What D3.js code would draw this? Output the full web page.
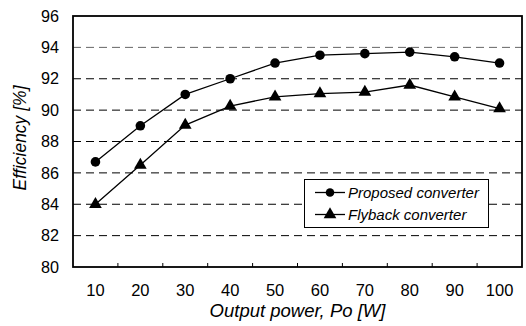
<!DOCTYPE html>
<html><head><meta charset="utf-8">
<script src="https://cdn.jsdelivr.net/npm/d3@7"></script>
<style>body{margin:0;background:#fff}svg{display:block}text{font-family:"Liberation Sans",Arial,sans-serif}</style>
</head><body>
<svg id="c" width="526" height="326"></svg>
<script>
const categories = ["10","20","30","40","50","60","70","80","90","100"];
const proposed = [86.7, 89.0, 91.0, 92.0, 93.0, 93.5, 93.6, 93.7, 93.4, 93.0];
const flyback = [84.0, 86.5, 89.05, 90.25, 90.85, 91.05, 91.15, 91.6, 90.85, 90.1];
const yTicks = [80, 82, 84, 86, 88, 90, 92, 94, 96];
const seriesNames = ["Proposed converter", "Flyback converter"];

const svg = d3.select("#c");
const m = {l: 73, t: 16, r: 522, b: 267};
const x = d3.scaleBand().domain(categories).range([m.l, m.r]);
const y = d3.scaleLinear().domain([80, 96]).range([m.b, m.t]);

// grid
svg.append("g").selectAll("line").data(yTicks.filter(d => d > 80 && d < 96)).join("line")
  .attr("x1", m.l).attr("x2", m.r).attr("y1", d => y(d)).attr("y2", d => y(d))
  .attr("stroke", d => d === 94 ? "#666" : "#000").attr("stroke-width", 1)
  .attr("stroke-dasharray", "8,5");

// x axis ticks (inside)
const xa = svg.append("g").attr("transform", `translate(0,${m.b})`)
  .call(d3.axisBottom(x).tickSize(0).tickPadding(17));
xa.select(".domain").remove();
xa.selectAll("text").attr("font-size", 16.5).attr("fill", "#000").attr("font-family", "Liberation Sans, Arial, sans-serif");
svg.append("g").selectAll("line").data(categories.slice(1)).join("line")
  .attr("x1", d => x(d)).attr("x2", d => x(d)).attr("y1", m.b).attr("y2", m.b - 4)
  .attr("stroke", "#000").attr("stroke-width", 1);

// y axis labels
const ya = svg.append("g").attr("transform", `translate(${m.l},0)`)
  .call(d3.axisLeft(y).tickValues(yTicks).tickSize(0).tickPadding(14));
ya.select(".domain").remove();
ya.selectAll("text").attr("font-size", 16.2).attr("fill", "#000").attr("font-family", "Liberation Sans, Arial, sans-serif");

// frame
svg.append("rect").attr("x", m.l).attr("y", m.t).attr("width", m.r - m.l).attr("height", m.b - m.t)
  .attr("fill", "none").attr("stroke", "#000").attr("stroke-width", 1.8);

const cx = d => x(d) + x.bandwidth() / 2;
const line = d3.line().x(d => cx(d[0])).y(d => y(d[1]));
const tri = d3.symbol().type(d3.symbolTriangle).size(70);

[[proposed, "circle"], [flyback, "tri"]].forEach(([vals, mk]) => {
  const pts = categories.map((c, i) => [c, vals[i]]);
  svg.append("path").attr("d", line(pts)).attr("fill", "none").attr("stroke", "#000").attr("stroke-width", 1.3);
  if (mk === "circle") {
    svg.append("g").selectAll("circle").data(pts).join("circle")
      .attr("cx", d => cx(d[0])).attr("cy", d => y(d[1])).attr("r", 4.8).attr("fill", "#000");
  } else {
    svg.append("g").selectAll("path").data(pts).join("path")
      .attr("d", tri).attr("transform", d => `translate(${cx(d[0])},${y(d[1])})`).attr("fill", "#000");
  }
});

// legend
const lg = svg.append("g");
lg.append("rect").attr("x", 304.5).attr("y", 179.5).attr("width", 184).attr("height", 48)
  .attr("fill", "#fff").attr("stroke", "#000").attr("stroke-width", 1);
seriesNames.forEach((n, i) => {
  const yy = 192.5 + i * 22;
  lg.append("line").attr("x1", 315).attr("x2", 345).attr("y1", yy).attr("y2", yy).attr("stroke", "#000").attr("stroke-width", 1.3);
  if (i === 0) lg.append("circle").attr("cx", 330).attr("cy", yy).attr("r", 4.3).attr("fill", "#000");
  else lg.append("path").attr("d", tri).attr("transform", `translate(330,${yy})`).attr("fill", "#000");
  lg.append("text").attr("x", 348).attr("y", yy).attr("dy", "0.35em").attr("font-size", 15)
    .attr("font-style", "italic").text(n);
});

// axis titles
svg.append("text").attr("x", (m.l + m.r) / 2).attr("y", 317).attr("text-anchor", "middle")
  .attr("font-size", 18.5).attr("font-style", "italic").text("Output power, Po [W]");
svg.append("text").attr("transform", `translate(26,138) rotate(-90)`).attr("text-anchor", "middle")
  .attr("font-size", 17.5).attr("font-style", "italic").text("Efficiency [%]");
</script>
</body></html>
